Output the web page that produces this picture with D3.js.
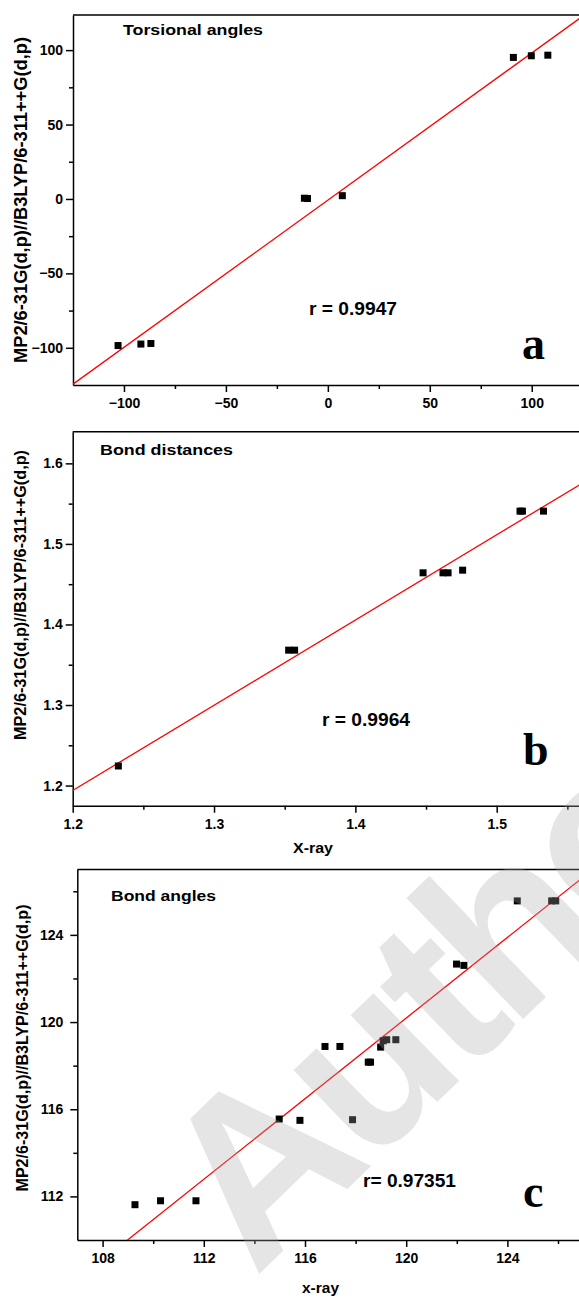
<!DOCTYPE html>
<html>
<head>
<meta charset="utf-8">
<script src="https://cdn.jsdelivr.net/npm/d3@7"></script>
<style>
  body { margin: 0; background: #fff; }
  svg { display: block; }
  .axis text { font-family: "Liberation Sans", Arial, sans-serif; font-weight: bold; font-size: 14px; fill: #000; }
  .axis path, .axis line { stroke: #000; stroke-width: 1.5; }
  .lbl { font-family: "Liberation Sans", Arial, sans-serif; font-weight: bold; fill: #000; }
  .panel-letter { font-family: "Liberation Serif", "Times New Roman", serif; font-weight: bold; font-size: 46px; fill: #000; }
</style>
</head>
<body>
<script>
// panel a: torsional angles (x-ray vs calculated)
var torsXray = [91.0, 99.8, 107.9, -11.5, -10.0, 7.1, -102.9, -91.7, -86.8];
var torsCalc = [95.1, 96.2, 96.6, 0.5, 0.3, 2.2, -98.5, -97.5, -97.1];
var torsFit = [0.989, -0.8];   // slope, intercept
var torsTicks = [-100, -50, 0, 50, 100];
var torsMinor = [-75, -25, 25, 75];

// panel b: bond distances
var distXray = [1.2323, 1.3528, 1.3570, 1.4479, 1.4620, 1.4656, 1.4759, 1.5165, 1.5182, 1.5331];
var distCalc = [1.2243, 1.3681, 1.3681, 1.4641, 1.4641, 1.4641, 1.4674, 1.5407, 1.5407, 1.5407];
var distFit = [1.058, -0.0757];
var distXTicks = [1.2, 1.3, 1.4, 1.5];
var distXMinor = [1.25, 1.35, 1.45, 1.55];
var distYTicks = [1.2, 1.3, 1.4, 1.5, 1.6];
var distYMinor = [1.25, 1.35, 1.45, 1.55];

// panel c: bond angles
var angXray = [109.28, 110.29, 111.69, 114.98, 115.80, 117.88, 116.79, 117.38, 118.50, 118.59,
               118.99, 119.09, 119.23, 119.59, 121.99, 122.28, 124.39, 125.75, 125.91];
var angCalc = [111.62, 111.80, 111.80, 115.55, 115.49, 115.52, 118.88, 118.88, 118.16, 118.16,
               118.85, 119.14, 119.19, 119.19, 122.66, 122.60, 125.56, 125.56, 125.56];
var angFit = [0.9246, 9.23];
var angXTicks = [108, 112, 116, 120, 124];
var angXMinor = [110, 114, 118, 122, 126];
var angYTicks = [112, 116, 120, 124];
var angYMinor = [114, 118, 122, 126];

var yTitle = 'MP2/6-31G(d,p)//B3LYP/6-311++G(d,p)';

var W = 579, H = 1299;

var svg = d3.select('body').append('svg')
    .attr('width', W)
    .attr('height', H);

svg.append('rect').attr('width', W).attr('height', H).attr('fill', '#fff');

var panels = [
  { id: 'a', xs: torsXray, ys: torsCalc, fit: torsFit,
    xDomain: [-125, 125], xRange: [73, 582.7], yDomain: [-125, 123.6], yRange: [385, 15],
    xTicks: torsTicks, xMinor: torsMinor, yTicks: torsTicks, yMinor: torsMinor, fmt: d3.format('d'),
    yPad: 3, clipH: 427,
    title: 'Torsional angles', titlePos: [123, 35, 140],
    r: 'r = 0.9947', rPos: [309, 315, 88],
    letter: [522, 359],
    xTitle: 'X-ray', xTitlePos: [303, 437, 39],
    yTitlePos: [21, 200, 326] },
  { id: 'b', xs: distXray, ys: distCalc, fit: distFit,
    xDomain: [1.2, 1.56], xRange: [72.7, 581.5], yDomain: [1.175, 1.6393], yRange: [805.7, 431.7],
    xTicks: distXTicks, xMinor: distXMinor, yTicks: distYTicks, yMinor: distYMinor, fmt: d3.format('.1f'),
    yPad: 3, clipH: H,
    title: 'Bond distances', titlePos: [100, 455, 133],
    r: 'r = 0.9964', rPos: [322, 726, 88],
    letter: [523, 765],
    xTitle: 'X-ray', xTitlePos: [293, 853, 40],
    yTitlePos: [20, 595, 290] },
  { id: 'c', xs: angXray, ys: angCalc, fit: angFit,
    xDomain: [107, 127], xRange: [77.3, 583.3], yDomain: [110, 127], yRange: [1240, 869.5],
    xTicks: angXTicks, xMinor: angXMinor, yTicks: angYTicks, yMinor: angYMinor, fmt: d3.format('d'),
    yPad: 7, clipH: H,
    title: 'Bond angles', titlePos: [111, 901, 105],
    r: 'r= 0.97351', rPos: [363, 1187, 93],
    letter: [523, 1207],
    xTitle: 'x-ray', xTitlePos: [302, 1293, 37],
    yTitlePos: [22, 1048, 287] }
];

panels.forEach(drawPanel);

function drawPanel(p) {
  var clipId = 'clip-' + p.id;
  svg.append('clipPath').attr('id', clipId)
    .append('rect').attr('x', 0).attr('y', 0).attr('width', W).attr('height', p.clipH);

  var g = svg.append('g').attr('clip-path', 'url(#' + clipId + ')');

  var x = d3.scaleLinear().domain(p.xDomain).range(p.xRange);
  var y = d3.scaleLinear().domain(p.yDomain).range(p.yRange);

  var left = p.xRange[0], right = p.xRange[1], top = p.yRange[1], bottom = p.yRange[0];

  // top frame line
  g.append('line')
    .attr('x1', left).attr('x2', right)
    .attr('y1', top).attr('y2', top)
    .attr('stroke', '#000').attr('stroke-width', 1.5);

  // minor ticks first, then major axes
  g.append('g').attr('class', 'axis')
    .attr('transform', 'translate(0,' + bottom + ')')
    .call(d3.axisBottom(x).tickValues(p.xMinor).tickSize(4).tickFormat(''))
    .select('.domain').remove();
  g.append('g').attr('class', 'axis')
    .attr('transform', 'translate(' + left + ',0)')
    .call(d3.axisLeft(y).tickValues(p.yMinor).tickSize(4).tickFormat(''))
    .select('.domain').remove();

  g.append('g').attr('class', 'axis')
    .attr('transform', 'translate(0,' + bottom + ')')
    .call(d3.axisBottom(x).tickValues(p.xTicks).tickSize(7).tickSizeOuter(0).tickPadding(6).tickFormat(p.fmt));
  g.append('g').attr('class', 'axis')
    .attr('transform', 'translate(' + left + ',0)')
    .call(d3.axisLeft(y).tickValues(p.yTicks).tickSize(7).tickSizeOuter(0).tickPadding(p.yPad).tickFormat(p.fmt));

  // regression line, clipped to the plot box
  var plotClip = 'plot-' + p.id;
  svg.append('clipPath').attr('id', plotClip)
    .append('rect').attr('x', left).attr('y', top)
    .attr('width', right - left).attr('height', bottom - top);

  g.append('line')
    .attr('clip-path', 'url(#' + plotClip + ')')
    .attr('x1', x(p.xDomain[0])).attr('y1', y(p.fit[0] * p.xDomain[0] + p.fit[1]))
    .attr('x2', x(p.xDomain[1])).attr('y2', y(p.fit[0] * p.xDomain[1] + p.fit[1]))
    .attr('stroke', '#ff0000').attr('stroke-width', 1.3);

  // square markers
  var sz = 7;
  g.selectAll('.pt')
    .data(d3.range(p.xs.length))
    .enter().append('rect')
    .attr('class', 'pt')
    .attr('x', function(i) { return x(p.xs[i]) - sz / 2; })
    .attr('y', function(i) { return y(p.ys[i]) - sz / 2; })
    .attr('width', sz).attr('height', sz)
    .attr('fill', '#000');

  // texts
  g.append('text').attr('class', 'lbl')
    .attr('x', p.titlePos[0]).attr('y', p.titlePos[1])
    .attr('font-size', 15.5)
    .attr('textLength', p.titlePos[2]).attr('lengthAdjust', 'spacingAndGlyphs')
    .text(p.title);

  g.append('text').attr('class', 'lbl')
    .attr('x', p.rPos[0]).attr('y', p.rPos[1])
    .attr('font-size', 18)
    .attr('textLength', p.rPos[2]).attr('lengthAdjust', 'spacingAndGlyphs')
    .text(p.r);

  g.append('text').attr('class', 'panel-letter')
    .attr('x', p.letter[0]).attr('y', p.letter[1])
    .text(p.id);

  g.append('text').attr('class', 'lbl')
    .attr('x', p.xTitlePos[0]).attr('y', p.xTitlePos[1])
    .attr('font-size', 14)
    .attr('textLength', p.xTitlePos[2]).attr('lengthAdjust', 'spacingAndGlyphs')
    .text(p.xTitle);

  g.append('text').attr('class', 'lbl')
    .attr('transform', 'translate(' + p.yTitlePos[0] + ',' + p.yTitlePos[1] + ') rotate(-90)')
    .attr('text-anchor', 'middle')
    .attr('dy', '0.36em')
    .attr('font-size', p.id === 'a' ? 18 : 16)
    .attr('textLength', p.yTitlePos[2]).attr('lengthAdjust', 'spacingAndGlyphs')
    .text(yTitle);
}

// watermark over everything
svg.append('text')
  .attr('transform', 'translate(255,1278) rotate(-44)')
  .attr('font-family', '"Liberation Sans", Arial, sans-serif')
  .attr('font-weight', 'bold')
  .attr('font-size', 232)
  .attr('letter-spacing', -10)
  .attr('fill', 'rgb(170,170,170)')
  .attr('fill-opacity', 0.3)
  .text('Author');
</script>
</body>
</html>
